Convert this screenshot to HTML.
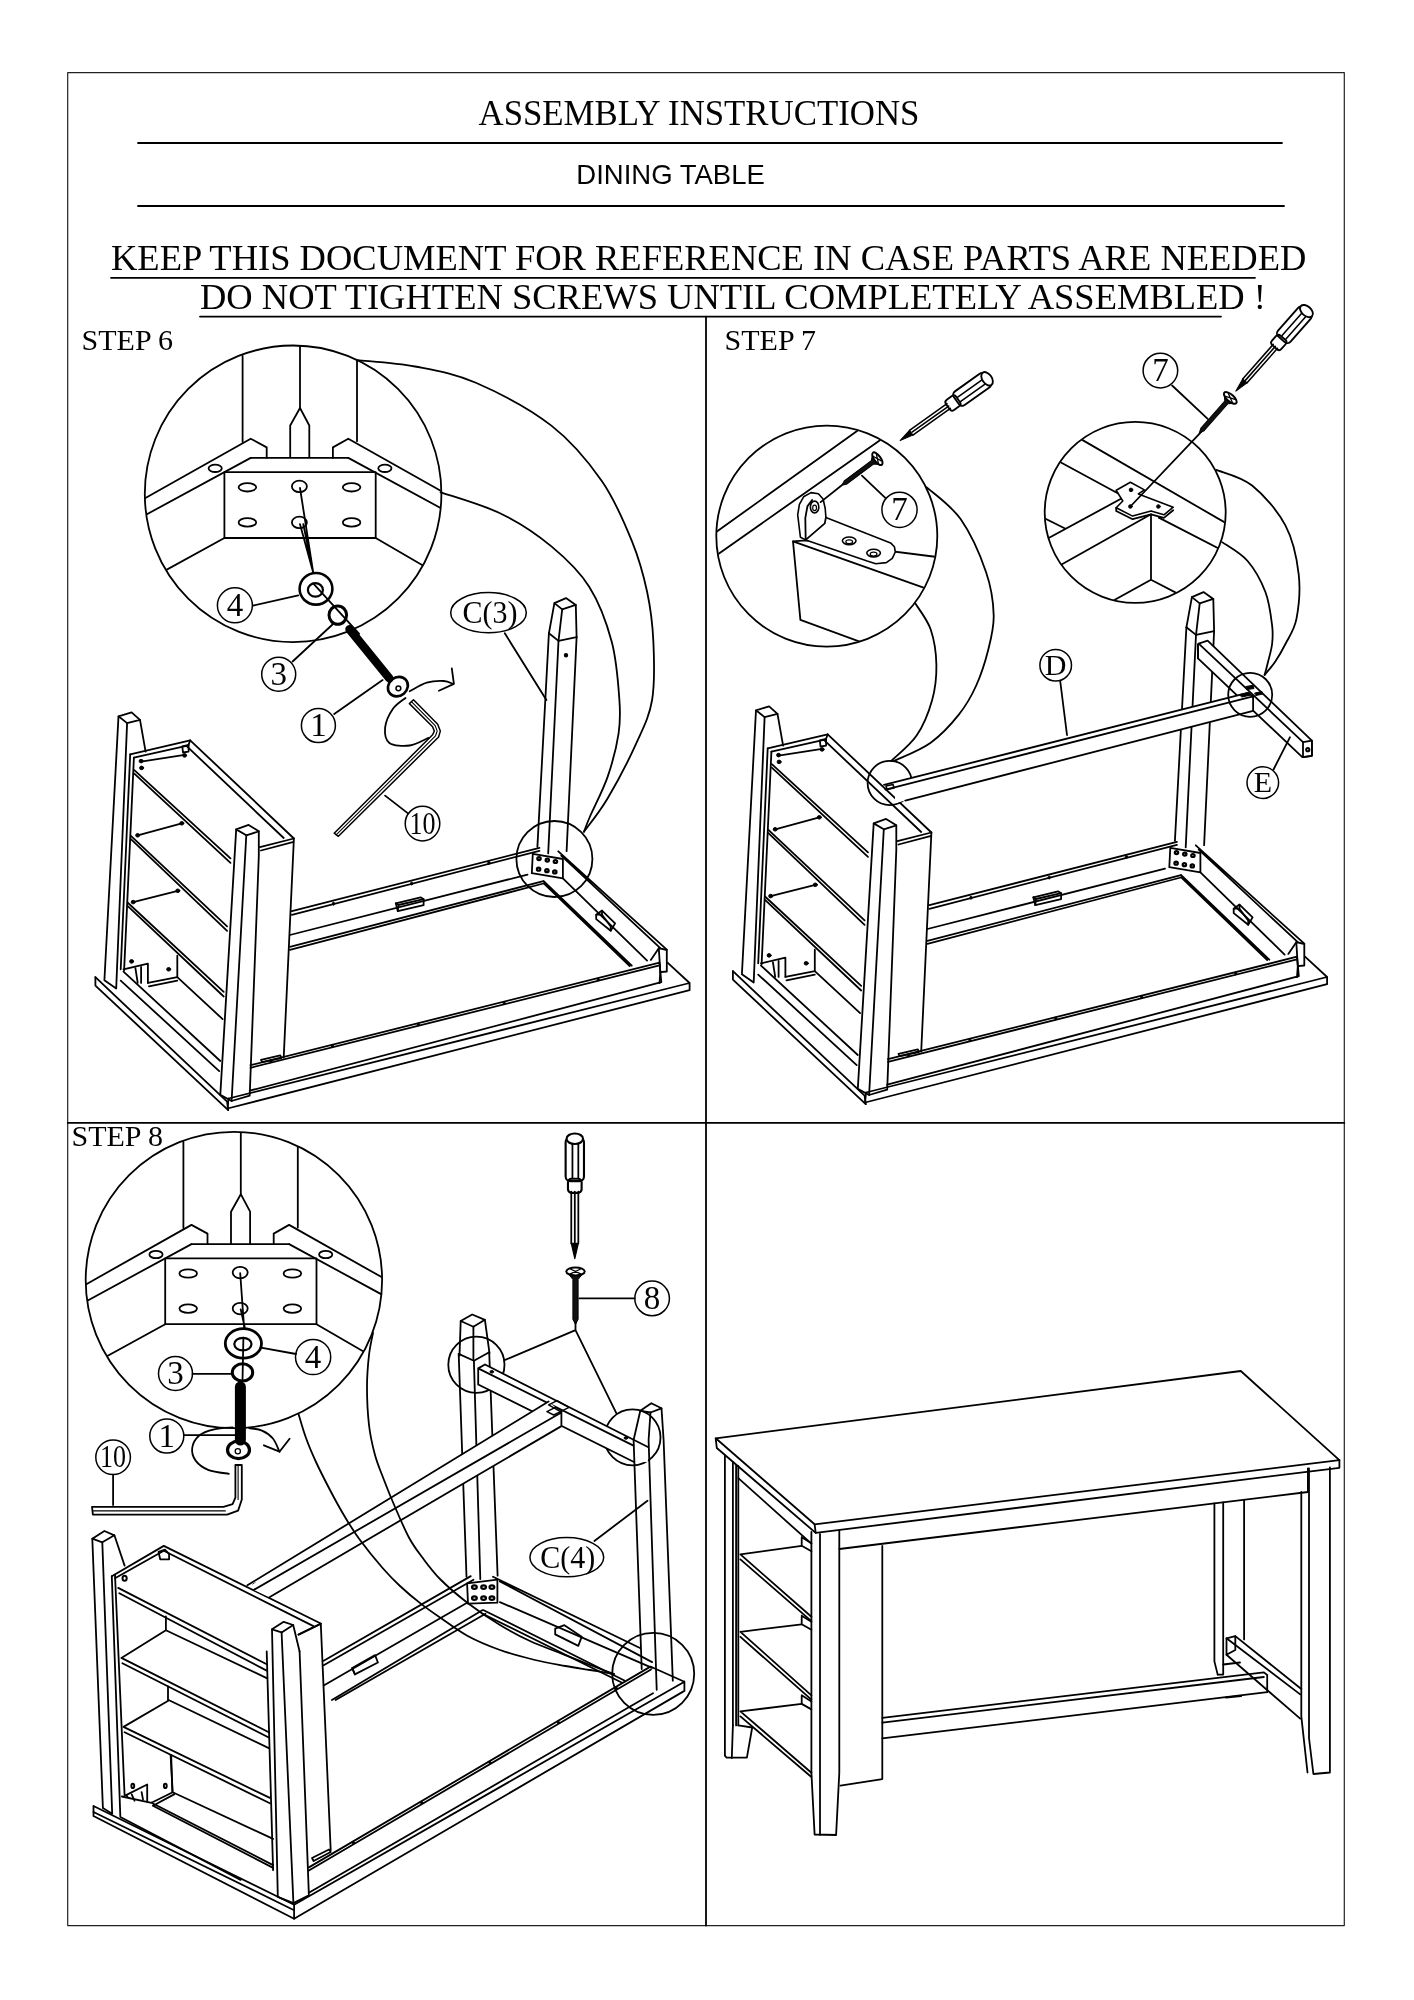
<!DOCTYPE html>
<html><head><meta charset="utf-8">
<style>
html,body{margin:0;padding:0;background:#fff;}
body{width:1414px;height:2000px;overflow:hidden;position:relative;}
svg{position:absolute;left:0;top:0;filter:grayscale(1);}
.s{font-family:"Liberation Serif",serif;fill:#000;stroke:none;opacity:0.99;}
.a{font-family:"Liberation Sans",sans-serif;fill:#000;stroke:none;opacity:0.99;}
</style></head><body>
<svg width="1414" height="2000" viewBox="0 0 1414 2000" fill="none" stroke="#000" stroke-width="1.8" stroke-linejoin="round" stroke-linecap="round">
<rect x="67.7" y="72.6" width="1276.6" height="1853" stroke-width="1.2" stroke="#222"/>
<path d="M138,143L1282,143M138,206L1284,206M111,277.8L1255,277.8M200,316.6L1221,316.6" stroke-width="1.8"/>
<path d="M706,316.6L706,1925.5M67.7,1122.9L1344.3,1122.9" stroke-width="1.8"/>
<text class="s" x="478.5" y="125" font-size="34.8">ASSEMBLY INSTRUCTIONS</text>
<text class="a" x="576.3" y="183.5" font-size="27.5">DINING TABLE</text>
<text class="s" x="111" y="269.8" font-size="36.5">KEEP THIS DOCUMENT FOR REFERENCE IN CASE PARTS ARE NEEDED</text>
<text class="s" x="200" y="309.2" font-size="36.5">DO NOT TIGHTEN SCREWS UNTIL COMPLETELY ASSEMBLED !</text>
<text class="s" x="81.6" y="350" font-size="30">STEP 6</text>
<text class="s" x="724.6" y="350" font-size="30">STEP 7</text>
<text class="s" x="71.5" y="1145.6" font-size="30">STEP 8</text>
<g id="s6">
<clipPath id="c6"><circle cx="293.1" cy="493.8" r="148"/></clipPath>
<g id="det6" clip-path="url(#c6)">
<path d="M242.6,355.8L242.6,441.9M300,344.4L300,408M357,360.2L357,441.3"/>
<path d="M290.2,457.3 L290.2,425.5 L300,408 L309.3,425.5 L309.3,457.3"/>
<path d="M140,501.1 L250.7,438.7 L266.7,447.4 L266.7,457.9"/>
<path d="M140,518 L250.7,457.9"/>
<path d="M450,496.1 L348.3,438.7 L332.9,447.4 L332.9,457.9"/>
<path d="M450,513.2 L348.3,457.9"/>
<path d="M250.7,457.9 L348.3,457.9"/>
<path d="M224.4,472.2 L375.7,472.2 L375.7,538 L224.4,538Z"/>
<path d="M224.4,538L140,584.4M375.7,538L450,581.2"/>
<ellipse cx="215.2" cy="468.3" rx="6.6" ry="3.7"/>
<ellipse cx="384.9" cy="468.3" rx="6.6" ry="3.7"/>
<ellipse cx="247.4" cy="487.3" rx="8.8" ry="4.2"/>
<ellipse cx="299.4" cy="486.4" rx="7.5" ry="5.7"/>
<ellipse cx="351.6" cy="487.3" rx="8.8" ry="4.2"/>
<ellipse cx="247.4" cy="522.4" rx="8.8" ry="4.2"/>
<ellipse cx="299.4" cy="522.4" rx="7.5" ry="5.7"/>
<ellipse cx="351.6" cy="522.4" rx="8.8" ry="4.2"/>
</g>
<path d="M300,488L313.2,572.4M300,524.2L313.2,572.4M303.3,524.2L313.2,572.4"/>
<circle cx="293.1" cy="493.8" r="148.3"/>
<ellipse cx="316" cy="588.8" rx="16.4" ry="15.8" stroke-width="2.6"/>
<ellipse cx="315.4" cy="589.9" rx="7.5" ry="6.8" stroke-width="2.2"/>
<ellipse cx="337.8" cy="615.1" rx="8.8" ry="9.2" stroke-width="3"/>
<path d="M313.2,583.4L359.2,633.8"/>
<circle cx="234.9" cy="605.3" r="17.5" stroke-width="1.5"/>
<text class="s" x="234.9" y="615.8" font-size="33" text-anchor="middle">4</text>
<path d="M252.9,605.7L298.3,595.4"/>
<path d="M349.5,629.2 L389.4,678.4" stroke-width="8.5"/>
<ellipse cx="397.9" cy="686.6" rx="10.5" ry="9.2" stroke-width="2.6" transform="rotate(-40 397.9 686.6)"/>
<ellipse cx="398.4" cy="688.3" rx="2.4" ry="2.4" stroke-width="1.5"/>
<circle cx="278.7" cy="674.2" r="17" stroke-width="1.5"/>
<text class="s" x="278.7" y="684.7" font-size="33" text-anchor="middle">3</text>
<path d="M292.6,661.5L332.5,624.5M334.2,714.1L382.6,680.1M385.1,795.6L408,813.4"/>
<circle cx="318.4" cy="725.6" r="17" stroke-width="1.5"/>
<text class="s" x="318.4" y="736.1" font-size="33" text-anchor="middle">1</text>
<circle cx="422.5" cy="823.6" r="17.3" stroke-width="1.5"/>
<text class="s" x="422.5" y="833.7" font-size="32" text-anchor="middle" textLength="26" lengthAdjust="spacingAndGlyphs">10</text>
<path d="M428.4,737.9 C425.3,739.1 416.2,744.6 409.7,745.5 C403.2,746.3 393.5,745.9 389.4,742.9 C385.3,740 384.6,733.3 385.1,727.7 C385.7,722 389.4,713.9 392.8,709 C396.2,704 403.4,699.8 405.5,698"/>
<path d="M409.7,691.2 C412.6,689.8 421,684.4 426.7,682.7 C432.4,681 439.3,680.8 443.7,681 C448.1,681.2 451.5,683.4 453,683.9"/>
<path d="M451.8,668.3 L453.9,683.9 L438.9,690.7"/>
<path d="M409.4,703.6 L413.5,699.8 L437.7,724.3 L440.3,731.1 L438.6,737 L338.4,836.3 L334.2,833.2 L432.6,734.8 L434.3,731.1 L432.6,726.8 L409.4,703.6" stroke-width="1.5"/>
<path d="M411.4,701.7 L435.2,725.6 L437.2,731.1 L435.5,735.8 L336.2,834.8" stroke-width="1.1"/>
<ellipse cx="488.5" cy="612.7" rx="37.8" ry="20.1" stroke-width="1.5"/>
<text class="s" x="489.9" y="622.8" font-size="32" text-anchor="middle" textLength="55" lengthAdjust="spacingAndGlyphs">C(3)</text>
<path d="M504.8,633.3L546.4,700"/>
<path d="M357.6,360.1 C367.2,361.2 395.3,362.7 415,366.5 C434.7,370.3 453.2,372.9 475.9,382.8 C498.6,392.7 530.4,409.2 551.4,425.6 C572.4,442 588.4,461.7 601.8,481 C615.2,500.3 624.5,522.9 632,541.4 C639.5,559.9 643.5,575 647.1,591.8 C650.7,608.6 652.6,624.1 653.4,642.1 C654.2,660.1 655,683 652.1,700 C649.2,717 643.3,727.7 635.9,744.1 C628.5,760.5 616.4,783.6 607.7,798.2 C599.1,812.8 588,826.1 584,831.7"/>
<path d="M440.6,492.3 C450.7,495.9 482.5,504.7 501,513.7 C519.5,522.7 536.7,534.2 551.4,546.4 C566.1,558.6 579.1,570.8 589.2,586.7 C599.3,602.7 606.8,623.2 611.8,642.1 C616.8,661 618.3,684.8 619.4,700 C620.5,715.2 620.5,720.5 618.6,733.3 C616.7,746.1 612.4,762.9 607.7,776.6 C603,790.3 594.4,806.3 590.4,815.5 C586.4,824.7 585.1,829 584,831.7"/>
<circle cx="554.4" cy="859" r="38"/>
</g>
<g id="tbl6">
<path d="M554.4,603.1 L566,598.1 L575.8,604.9 L562.2,609.4Z"/>
<path d="M554.4,603.1L548.9,633.3M562.2,609.4L558.5,640.9M575.8,604.9L576.6,637.1"/>
<path d="M548.9,633.3 L558.5,640.9 L576.6,637.1"/>
<ellipse cx="566" cy="655.2" rx="1.3" ry="1.3" fill="#000"/>
<path d="M548.9,633.3L537.4,846.9M558.5,640.8L548.2,853.4M576.6,637.1L566.6,851.2"/>
<path d="M118.5,716.3 L131.6,712.4 L140,719.9 L127.1,723.1Z"/>
<path d="M118.5,716.3 L104.4,980.2 L116.2,988.5 L127.1,723.1"/>
<path d="M140,719.9L145.6,751.6"/>
<path d="M130.2,754.3L120.7,969.3M133.9,757.7L124.1,970.4"/>
<path d="M130.2,754.3 L190.2,740.3 L293.9,838.5 L259.9,847.1"/>
<path d="M133.9,757.7 L186.4,745.9 L283.7,838"/>
<path d="M190.2,740.3 L188.2,745.9"/>
<path d="M182.3,746.4 L188.6,744.8 L188.6,751.6 L183,752.5Z"/>
<path d="M141.1,761.6L184.6,754.8M137.7,835.3L181.8,823.3M133.2,902.1L177.8,890.8"/>
<ellipse cx="141.1" cy="761.1" rx="2" ry="1.8" stroke-width="1" fill="#000"/>
<ellipse cx="141.6" cy="767.9" rx="2" ry="1.8" stroke-width="1" fill="#000"/>
<ellipse cx="184.6" cy="755.4" rx="2" ry="1.8" stroke-width="1" fill="#000"/>
<ellipse cx="137.7" cy="835.3" rx="2" ry="1.8" stroke-width="1" fill="#000"/>
<ellipse cx="181.8" cy="823.3" rx="2" ry="1.8" stroke-width="1" fill="#000"/>
<ellipse cx="133.2" cy="902.1" rx="2" ry="1.8" stroke-width="1" fill="#000"/>
<ellipse cx="177.8" cy="890.8" rx="2" ry="1.8" stroke-width="1" fill="#000"/>
<ellipse cx="131.6" cy="961.4" rx="2" ry="1.8" stroke-width="1" fill="#000"/>
<ellipse cx="168.7" cy="969.3" rx="2" ry="1.8" stroke-width="1" fill="#000"/>
<path d="M134.3,770.2L230.5,858.4M134.3,773.6L230.5,862.9M130.9,835.8L227.1,926.3M130.9,839.2L227.1,930.8M127.5,902.5L223.7,991.9M127.5,905.9L223.7,996.5"/>
<path d="M123.5,969.3 L147.9,963.6 L147.9,982.9"/>
<path d="M177.3,955.7 L177.3,977.2 L147.9,982.9"/>
<path d="M149,986.3L177.3,980.6M177.3,977.2L222.6,1019.1M135.4,968.2L137.7,982.9M141.1,967L141.1,982.9"/>
<path d="M123.5,971.6L220.3,1061M120.7,980.6L219.2,1071.1"/>
<path d="M293.9,838.5L283.7,1057.6M261,850.5L292.7,842.1"/>
<path d="M236.2,829.4 L248.6,824.9 L258.8,831.3 L246.3,835.3Z"/>
<path d="M236.2,829.4 L220.3,1094.9 L231.6,1101 L249.7,1095.6 L258.8,856.2 L258.8,831.3"/>
<path d="M246.3,835.3L231.6,1101"/>
<path d="M95.4,977.2 L95.4,985.6 L228.2,1110.1"/>
<path d="M95.4,977.2L227.1,1101.7M227.1,1101.7L228.2,1110.1"/>
<path d="M261,1059.8 L280.3,1055.3 L281.4,1058 L262.2,1062.1Z"/>
<path d="M291.9,911.2L539.4,847.8M291.9,914.8L539.4,850.8M289.9,935L527.5,874.6M289.9,946.8L543.4,881.1M289.9,949.8L543.4,883.5"/>
<path d="M395.8,903.3 L420.6,897.3 L423.6,899.2 L423.6,905.2 L397.8,911.2Z"/>
<path d="M395.8,903.3L398.5,905M398.5,905L423.6,899.2M398.5,905L397.8,911.2"/>
<ellipse cx="333.5" cy="903.7" rx="1.2" ry="1.6" stroke-width="0.8" fill="#000"/>
<ellipse cx="411.7" cy="883.5" rx="1.2" ry="1.6" stroke-width="0.8" fill="#000"/>
<ellipse cx="488.9" cy="862.9" rx="1.2" ry="1.6" stroke-width="0.8" fill="#000"/>
<path d="M532.8,853.8 L562.9,859 L562.9,878.3 L531.8,873.2Z"/>
<ellipse cx="539" cy="858.6" rx="1.7" ry="1.5" stroke-width="2.2"/>
<ellipse cx="547.3" cy="860.1" rx="1.7" ry="1.5" stroke-width="2.2"/>
<ellipse cx="555.4" cy="861.5" rx="1.7" ry="1.5" stroke-width="2.2"/>
<ellipse cx="538.6" cy="869.2" rx="1.7" ry="1.5" stroke-width="2.2"/>
<ellipse cx="546.9" cy="870.7" rx="1.7" ry="1.5" stroke-width="2.2"/>
<ellipse cx="554.8" cy="871.9" rx="1.7" ry="1.5" stroke-width="2.2"/>
<path d="M558.3,851.3L666.8,949.7M561.2,855.7L660.3,948.2M562.9,878.3L647.1,960.6M543.7,881.2L631.8,965.7M543.7,883.4L629.7,966.1"/>
<path d="M596.2,914.7 L602,910.6 L615.1,923.4 L610.7,930.7 L596.2,919.1Z"/>
<path d="M602,910.6L602,914.7M610.7,930.7L610.7,926.4M602,914.7L610.7,926.4M596.2,914.7L602,914.7"/>
<path d="M658.8,948.2 L666.8,950 L666.8,971.5 L660.3,972.2Z"/>
<path d="M658.8,948.2L650.8,959.9M660.3,972.2L659.5,983.2"/>
<path d="M250.5,1065.2L659.5,962.7M250.5,1067.8L659.5,965.4M659.5,962.7L661.3,982.2M249.7,1090.7L661.3,982.2M228.5,1098.5L689.6,983M227.6,1108.5L689.6,990.1M689.6,983L689.6,990.1M689.6,983L667.5,962.7M228.5,1098.5L227.6,1108.5"/>
<ellipse cx="270.9" cy="1061.4" rx="1" ry="1.5" stroke-width="0.8" fill="#000"/>
<ellipse cx="332.3" cy="1046" rx="1" ry="1.5" stroke-width="0.8" fill="#000"/>
<ellipse cx="418.2" cy="1024.5" rx="1" ry="1.5" stroke-width="0.8" fill="#000"/>
<ellipse cx="504.1" cy="1003" rx="1" ry="1.5" stroke-width="0.8" fill="#000"/>
<ellipse cx="598.1" cy="979.4" rx="1" ry="1.5" stroke-width="0.8" fill="#000"/>
</g>
<use href="#tbl6" transform="translate(637.5,-6)"/>
<clipPath id="c7a"><circle cx="826.8" cy="536.1" r="110"/></clipPath>
<g clip-path="url(#c7a)">
<path d="M706,539.3L863,426.8M706,562.6L888.5,434.3"/>
<path d="M939.4,557.3 L805.7,540.3 L793,541.4 L800.4,619.9 L875.7,647.5"/>
<path d="M793,541.4L934.1,591.3"/>
<path d="M800.4,537.2 L797.7,514.9 L799.4,504.3 L803.6,496.8 L811,492.6 L818.4,493.7 L823.1,499 L825.2,508.5 L825.9,517.4 L890.6,542.9 L894.4,546.7 L895.3,552 L892.3,558.4 L886.3,562.6 L875.7,563.7 L867.2,561.1 L805.7,539.9Z" stroke-width="1.6" fill="#fff"/>
<path d="M805.7,539.9 L805.3,518.1 L807.4,506.4 L812.1,500"/>
<path d="M805.7,539.9 L824.8,523.4 L825.9,517.4"/>
<ellipse cx="814.6" cy="507" rx="4.2" ry="5.9" stroke-width="1.6"/>
<ellipse cx="814.6" cy="507.9" rx="1.9" ry="2.8" stroke-width="1.2"/>
<ellipse cx="849.2" cy="540.8" rx="6.8" ry="3.8" stroke-width="1.6"/>
<ellipse cx="849.2" cy="541.8" rx="3.4" ry="1.9" stroke-width="1.2"/>
<ellipse cx="873.6" cy="553.1" rx="6.8" ry="3.8" stroke-width="1.6"/>
<ellipse cx="873.6" cy="554.1" rx="3.4" ry="1.9" stroke-width="1.2"/>
</g>
<circle cx="826.8" cy="536.1" r="110.5"/>
<g transform="translate(877.4,458.7) rotate(143.3)"><path d="M0,-7.5 L6,-2.1 L39.4,-2.1 L44.4,0 L39.4,2.1 L6,2.1 L0,7.5Z" fill="#111" stroke-width="1"/><ellipse cx="0" cy="0" rx="3.2" ry="7.5" fill="#fff" stroke-width="2"/><path d="M-1.9,-4.1 L1.9,4.1 M-1.9,4.1 L1.9,-4.1" stroke-width="1.3"/></g>
<path d="M841.8,485.2L820.6,502.1"/>
<circle cx="899.5" cy="509.8" r="17.6" stroke-width="1.5"/>
<text class="s" x="899.5" y="520.3" font-size="33" text-anchor="middle">7</text>
<path d="M861.9,475.6L885.3,497.9"/>
<g transform="translate(900.1,440.6) rotate(-35.4) scale(1.046)"><path d="M0,0 L13,-2.8 L13,2.8 Z" fill="#000" stroke-width="1"/><path d="M13,-2.8 L57,-2.8 M13,2.8 L57,2.8 M14,0 L57,0" stroke-width="1.5"/><rect x="56" y="-6.0" width="12" height="12.0" rx="3" stroke-width="1.8"/><rect x="66" y="-8.0" width="37" height="16.0" rx="4" stroke-width="1.8"/><path d="M69,-2 L100,-2 M69,3 L100,3" stroke-width="1.5"/><ellipse cx="102" cy="0" rx="4.5" ry="7.2" fill="#fff" stroke-width="1.8"/></g>
<path d="M926.7,487.3 C932.4,492.6 950.7,505 960.6,519.1 C970.5,533.2 980.6,556.2 986.1,572.2 C991.6,588.2 993.4,602.3 993.7,615.4 C994,628.5 991,638.9 988,650.7 C985,662.5 980.8,675.4 976,686 C971.2,696.6 966.5,704.9 959,714.4 C951.5,723.9 941.5,734.9 930.7,742.7 C919.9,750.5 900.1,758 894,761"/>
<path d="M915.2,603.3 C917.8,607.7 927.2,619.2 930.7,629.5 C934.2,639.8 936.2,653.1 936.4,664.9 C936.6,676.7 935.4,688.4 932.1,700.2 C928.8,712 923.4,725.5 916.6,735.6 C909.8,745.7 895.4,756.8 891.1,761"/>
<circle cx="889.8" cy="783" r="22.2"/>
<path d="M886,786 L893,784.5 L894,788 L887,789.5Z" stroke-width="1.6"/>
<circle cx="1055.7" cy="665.2" r="15.8" stroke-width="1.5"/>
<text class="s" x="1055.7" y="674.7" font-size="30" text-anchor="middle">D</text>
<path d="M1060.2,681L1067,735"/>
<clipPath id="c7b"><circle cx="1135.2" cy="512.4" r="90"/></clipPath>
<g clip-path="url(#c7b)">
<path d="M1082.2,439.9L1229.9,525.4M1052.2,457.7L1117.7,493.2M1158.8,517.6L1229.9,554.3M1038.9,543.2L1121,498.8M1052.2,569.8L1151,514.3M1038.9,515.4L1065.5,528.7M1151,514.3L1151,579.8M1151,579.8L1096.6,609.8M1151,579.8L1185.4,597.6"/>
<path d="M1116.2,490.3 L1130.4,482.3 L1144.4,489.9 L1138.4,493.9 L1173.2,507.2 L1163.9,514.8 L1151,511 L1132.6,516.1 L1116.2,507.7 L1122.8,501Z" stroke-width="1.6"/>
<path d="M1116.2,507.7 L1116.2,511 L1132.6,519.2 L1151,514.3 L1163.9,517.9 L1173.2,510.3"/>
<ellipse cx="1131" cy="489.9" rx="1.8" ry="1.8" stroke-width="1" fill="#000"/>
<ellipse cx="1130.4" cy="506.5" rx="1.8" ry="1.8" stroke-width="1" fill="#000"/>
<ellipse cx="1158.4" cy="506.5" rx="1.8" ry="1.8" stroke-width="1" fill="#000"/>
</g>
<circle cx="1135.2" cy="512.4" r="90.5"/>
<path d="M1130.4,506.5L1201,432.1"/>
<g transform="translate(1230.3,397.9) rotate(131.4)"><path d="M0,-8 L6,-2.1 L42,-2.1 L47,0 L42,2.1 L6,2.1 L0,8Z" fill="#111" stroke-width="1"/><ellipse cx="0" cy="0" rx="3.4" ry="8" fill="#fff" stroke-width="2"/><path d="M-2.0,-4.4 L2.0,4.4 M-2.0,4.4 L2.0,-4.4" stroke-width="1.3"/></g>
<circle cx="1160.4" cy="370.6" r="17.3" stroke-width="1.5"/>
<text class="s" x="1160.4" y="381.1" font-size="33" text-anchor="middle">7</text>
<path d="M1172.1,385.5L1207.7,418.8"/>
<g transform="translate(1235.9,391.1) rotate(-48.6) scale(1.046)"><path d="M0,0 L13,-2.8 L13,2.8 Z" fill="#000" stroke-width="1"/><path d="M13,-2.8 L57,-2.8 M13,2.8 L57,2.8 M14,0 L57,0" stroke-width="1.5"/><rect x="56" y="-6.0" width="12" height="12.0" rx="3" stroke-width="1.8"/><rect x="66" y="-8.0" width="37" height="16.0" rx="4" stroke-width="1.8"/><path d="M69,-2 L100,-2 M69,3 L100,3" stroke-width="1.5"/><ellipse cx="102" cy="0" rx="4.5" ry="7.2" fill="#fff" stroke-width="1.8"/></g>
<path d="M1216.5,469.9 C1222.4,472.5 1240.6,476.2 1252.1,485.5 C1263.6,494.8 1277.6,510.6 1285.4,525.4 C1293.2,540.2 1296.9,558.8 1298.7,574.3 C1300.5,589.8 1298.7,607.1 1296.5,618.7 C1294.3,630.3 1289,636.8 1285.4,644 C1281.8,651.2 1278.5,656.9 1275,662 C1271.5,667.1 1266.3,672.8 1264.6,674.9"/>
<path d="M1222.1,542.1 C1226.3,545.2 1240.4,552.7 1247.6,561 C1254.8,569.3 1261.3,581.3 1265.4,592 C1269.5,602.7 1271,616.7 1272.1,625.4 C1273.2,634.1 1272.8,637.9 1272.1,644 C1271.4,650.1 1269.2,656.9 1268,662 C1266.8,667.1 1265.2,672.8 1264.6,674.9"/>
<path d="M1198,644.4 L1198.7,643.6 L1207.6,640.6 L1311.9,740.7 L1311.9,755.8 L1303,757.2 L1302.3,757.2 L1198,658.4Z" stroke-width="1.8" fill="#fff"/>
<path d="M1198.7,643.6L1303,742.1M1198,644.4L1198,658.4"/>
<path d="M1303,742.1 L1311.9,740.7 L1311.9,755.8 L1303,757.2Z"/>
<ellipse cx="1307.8" cy="749.7" rx="1.6" ry="1.6" stroke-width="2"/>
<path d="M895,782.1 L1247.6,692.9 L1253.1,696.3 L1253.1,710.9 L905.3,800.6 L895,803.3Z" fill="#fff" stroke="none"/>
<path d="M884,784.9L1247.6,692.9M885.5,789.6L1253.1,696.3M905.3,800.6L1253.1,710.9M1253.1,696.3L1253.1,710.9M1247.6,692.9L1253.1,696.3"/>
<path d="M1246,686.5 L1253,685.3 L1254,688.5 L1247,689.6Z" stroke-width="1" fill="#000"/>
<path d="M1240,694.5 L1249,692.5 L1251,695 L1242,697Z" stroke-width="1" fill="#000"/>
<path d="M1255,693 L1262,691.5 L1263,694 L1256,695.5Z" stroke-width="1" fill="#000"/>
<circle cx="1250.2" cy="694.8" r="22"/>
<circle cx="1262.8" cy="782.6" r="15.8" stroke-width="1.5"/>
<text class="s" x="1262.8" y="792.1" font-size="30" text-anchor="middle">E</text>
<path d="M1273.5,769.5L1289.9,737.3"/>
<use href="#det6" transform="translate(-59.2,786.2)"/>
<circle cx="233.9" cy="1280" r="148.2"/>
<path d="M240.2,1273.2L244.1,1327.5M240.7,1309.4L244.8,1327.5M243.4,1337.7L242.5,1380.7"/>
<ellipse cx="243.4" cy="1343.4" rx="18.1" ry="14.7" stroke-width="2.8"/>
<ellipse cx="242.9" cy="1344.1" rx="8.6" ry="6.3" stroke-width="2.2"/>
<ellipse cx="242.5" cy="1372.4" rx="10.2" ry="8.6" stroke-width="3"/>
<circle cx="313.1" cy="1357" r="17.6" stroke-width="1.5"/>
<text class="s" x="313.1" y="1367.5" font-size="33" text-anchor="middle">4</text>
<path d="M262.2,1347.9L296.1,1354"/>
<circle cx="175.5" cy="1373.5" r="17" stroke-width="1.5"/>
<text class="s" x="175.5" y="1384" font-size="33" text-anchor="middle">3</text>
<path d="M192.5,1373.9L232.1,1373.9"/>
<path d="M240.4,1387 L240.4,1440" stroke-width="11"/>
<ellipse cx="238.5" cy="1449.9" rx="11" ry="8.8" stroke-width="3.2"/>
<ellipse cx="237.8" cy="1451.3" rx="2.6" ry="2.6" stroke-width="1.3"/>
<circle cx="166.8" cy="1436.1" r="17" stroke-width="1.5"/>
<text class="s" x="166.8" y="1446.6" font-size="33" text-anchor="middle">1</text>
<path d="M183.9,1435.2L235.4,1435.2"/>
<circle cx="113.1" cy="1457.2" r="17.3" stroke-width="1.5"/>
<text class="s" x="113.1" y="1467.4" font-size="32" text-anchor="middle" textLength="26" lengthAdjust="spacingAndGlyphs">10</text>
<path d="M113.1,1474.7L113.1,1505"/>
<path d="M92,1506.9 L223.4,1506.9 L232.6,1504.1 L235.4,1497.7 L235.4,1465 L241.8,1465 L241.8,1499.5 L238.1,1510.6 L227.1,1514.6 L92.9,1514.6 L92,1506.9"/>
<path d="M92.9,1510.9L225.3,1510.9M238.1,1465.5L238.1,1499.5" stroke-width="1.1"/>
<path d="M228.9,1473.8 C225.6,1473.2 214.2,1472.2 208.7,1470.1 C203.2,1468 198.6,1464.6 195.8,1460.9 C193.1,1457.2 191.6,1452.3 192.2,1448 C192.8,1443.7 195.8,1438.3 199.5,1435.2 C203.2,1432 208.7,1430.6 214.2,1429.3 C219.7,1428 229.6,1427.7 232.6,1427.4"/>
<path d="M249.2,1428.2 C251.3,1428.6 258.1,1428.8 262,1430.6 C266,1432.3 270.2,1435.3 273.1,1438.8 C276,1442.4 278.4,1449.6 279.5,1451.7"/>
<path d="M263.9,1445.3 L279.5,1451.7 L289.6,1438.8"/>
<g transform="translate(574.8,1258.7) rotate(-90.0) scale(1.176)"><path d="M0,0 L13,-3.0 L13,3.0 Z" fill="#000" stroke-width="1"/><path d="M13,-3.0 L57,-3.0 M13,3.0 L57,3.0 M14,0 L57,0" stroke-width="1.5"/><rect x="56" y="-5.8" width="12" height="11.6" rx="3" stroke-width="1.8"/><rect x="66" y="-7.8" width="37" height="15.6" rx="4" stroke-width="1.8"/><path d="M69,-2 L100,-2 M69,3 L100,3" stroke-width="1.5"/><ellipse cx="102" cy="0" rx="4.5" ry="7.0" fill="#fff" stroke-width="1.8"/></g>
<g transform="translate(575.5,1271.4) rotate(90.0)"><path d="M0,-9.2 L8,-2.6 L48,-2.6 L53,0 L48,2.6 L8,2.6 L0,9.2Z" fill="#111" stroke-width="1"/><ellipse cx="0" cy="0" rx="4" ry="9.2" fill="#fff" stroke-width="2"/><path d="M-2.4,-5.1 L2.4,5.1 M-2.4,5.1 L2.4,-5.1" stroke-width="1.3"/></g>
<circle cx="652.1" cy="1298.4" r="17.3" stroke-width="1.5"/>
<text class="s" x="652.1" y="1308.9" font-size="33" text-anchor="middle">8</text>
<path d="M579.4,1298.4L634.8,1298.4M575.5,1330.2L504.5,1360.2M575.5,1330.2L616.3,1413.2M575.5,1323L575.5,1330.2"/>
<circle cx="476.4" cy="1364.8" r="28.1"/><circle cx="632.5" cy="1437.4" r="28"/><circle cx="653.2" cy="1673.8" r="41"/>
<ellipse cx="566.8" cy="1557.2" rx="36.9" ry="19.6" stroke-width="1.5"/>
<text class="s" x="567.8" y="1567.6" font-size="32" text-anchor="middle" textLength="55" lengthAdjust="spacingAndGlyphs">C(4)</text>
<path d="M594.4,1541L647.5,1500.7"/>
<path d="M92.3,1538.7 L104.4,1531 L114.4,1535.3 L102.3,1542.3Z"/>
<path d="M92.3,1538.7 L102.9,1808.1 L112.2,1813.8 L102.3,1542.3"/>
<path d="M114.4,1535.3L124.6,1565.6M111.8,1576.2L120.3,1816M115,1574.7L124.6,1795.8"/>
<path d="M111.8,1576.2 L163.8,1545.9 L320.8,1623.5 L298.5,1634.6"/>
<path d="M115,1578.3 L163.8,1550.8 L313.4,1626.1"/>
<path d="M158.5,1551.8 L164.9,1549.7 L169.1,1553.9 L169.1,1559.3 L160.2,1559.3Z"/>
<ellipse cx="124.6" cy="1578.3" rx="2.1" ry="2.5" stroke-width="2"/>
<path d="M118.2,1587.9L266.7,1664.3M119.3,1593.2L266.7,1670.6M165.9,1616.5L165.9,1630.3M168,1686.5L168,1700.3M171.2,1755.5L172.3,1791.6"/>
<path d="M121.4,1657.9L165.9,1630.3M121.4,1657.9L268.8,1732.2M122.4,1663.2L268.8,1737.5M165.9,1630.3L266.7,1678.1"/>
<path d="M123.5,1726.9L169.1,1700.3M123.5,1726.9L269.9,1797.9M124.6,1732.2L269.9,1803.2M169.1,1700.3L268.8,1748.1"/>
<path d="M170.6,1755.5L172.7,1792.2M172.7,1792.2L273.1,1838.9M172.7,1792.2L151.5,1802.8M174.1,1794.4L152.9,1805.7M151.5,1802.8L273.1,1865.1M152.9,1805.7L273.1,1867.9M121.8,1796.5L151.5,1802.8M120.4,1817L240.6,1879.9"/>
<path d="M126,1795.1 L147.2,1784.5 L147.2,1801.4"/>
<path d="M131.7,1794.4L134.5,1800.7M141.6,1792.2L143,1799.3M126,1795.1L127.4,1796.5"/>
<ellipse cx="132.8" cy="1785.9" rx="1.4" ry="2.1" stroke-width="2"/>
<ellipse cx="165.3" cy="1785.9" rx="1.4" ry="2.1" stroke-width="2"/>
<path d="M272,1629.3 L283.7,1621.8 L293.2,1625 L281.6,1632.4Z"/>
<path d="M293.2,1625L299.6,1651.5"/>
<path d="M272,1629.3 L277.8,1896.9 L293.4,1903.1 L308.9,1895.4 L299.6,1651.5"/>
<path d="M281.6,1632.5L293.4,1903.1"/>
<path d="M298.5,1634.6L320.8,1624M266.7,1651.5L273.1,1870.1"/>
<path d="M320.8,1624L330.7,1850.2"/>
<path d="M312,1858 L329,1849.5 L330.7,1852 L313.6,1861Z"/>
<path d="M93.5,1806L294.1,1904.7M93.5,1816L294.1,1918.7M93.5,1806L93.5,1816M294.1,1904.7L294.1,1918.7"/>
<path d="M93.5,1812L294.1,1910.2"/>
<path d="M308.9,1867.4L650.4,1666.6M308.9,1870.5L651,1669.5M309.7,1892.3L653,1693.2M294.1,1904.7L684.4,1681.7M294.1,1918.7L684.4,1690.9M684.4,1681.7L684.4,1690.9M684.4,1681.7L650.9,1666.7"/>
<ellipse cx="353.3" cy="1842.8" rx="1.2" ry="1.2" stroke-width="0.8" fill="#000"/>
<ellipse cx="421.6" cy="1802.6" rx="1.2" ry="1.2" stroke-width="0.8" fill="#000"/>
<ellipse cx="489.9" cy="1762.5" rx="1.2" ry="1.2" stroke-width="0.8" fill="#000"/>
<ellipse cx="558.2" cy="1722.3" rx="1.2" ry="1.2" stroke-width="0.8" fill="#000"/>
<ellipse cx="616.2" cy="1688.2" rx="1.2" ry="1.2" stroke-width="0.8" fill="#000"/>
<path d="M470.8,1576.1L323.7,1660.7M473.5,1579.7L323.7,1665.2M467.1,1602.7L323.7,1685.5M482.7,1610.1L331.9,1700M485.5,1613.8L335.6,1700"/>
<path d="M352.2,1668 L375.1,1655.1 L377.9,1662.5 L354.9,1674.4Z"/>
<path d="M352.2,1668L354.9,1674.4"/>
<ellipse cx="255.6" cy="1586.2" rx="2.6" ry="2.6" stroke-width="2"/>
<path d="M467.1,1583.4 L497.4,1579.7 L497.4,1602.7 L468,1603.6Z"/>
<ellipse cx="474.4" cy="1587.1" rx="2.4" ry="1.8" stroke-width="2.2"/>
<ellipse cx="483.6" cy="1587.1" rx="2.4" ry="1.8" stroke-width="2.2"/>
<ellipse cx="491.9" cy="1587.1" rx="2.4" ry="1.8" stroke-width="2.2"/>
<ellipse cx="474.4" cy="1598.1" rx="2.4" ry="1.8" stroke-width="2.2"/>
<ellipse cx="483.6" cy="1598.1" rx="2.4" ry="1.8" stroke-width="2.2"/>
<ellipse cx="491.9" cy="1598.1" rx="2.4" ry="1.8" stroke-width="2.2"/>
<path d="M460.7,1321 L472.2,1314.5 L484.9,1319.8 L473.4,1326.7Z"/>
<path d="M460.7,1321L459.5,1355.6M473.4,1326.7L473.4,1359M484.9,1319.8L489.5,1353.2"/>
<path d="M458.7,1353.9 L473.9,1360.7 L489.2,1352.2"/>
<path d="M458.7,1353.9L466.5,1576.8M473.9,1360.7L480.3,1579.1M489.2,1352.2L497.6,1575.6"/>
<path d="M478.2,1368.4 L485,1364.5 L647.9,1447 L647.9,1462 L633.5,1461.7 L478.2,1384.5Z" fill="#fff" stroke="none"/>
<path d="M485,1364.5L647.9,1447M478.2,1368.4L633.5,1445.6M478.2,1384.5L633.5,1461.7M478.2,1368.4L485,1364.5M478.2,1368.4L478.2,1384.5"/>
<ellipse cx="491.8" cy="1371.8" rx="1.8" ry="1.3" stroke-width="1" fill="#000"/>
<ellipse cx="625.9" cy="1438" rx="1.8" ry="1.3" stroke-width="1" fill="#000"/>
<path d="M250,1586 L548.6,1401.5 L561.4,1412.5 L561.4,1426.1 L269.4,1597.2 L253.8,1589.9Z" fill="#fff" stroke="none"/>
<path d="M247.4,1585.3L548.6,1401.5M253.8,1589.9L561.4,1412.5M269.4,1597.2L561.4,1426.1M561.4,1412.5L561.4,1426.1"/>
<path d="M548.6,1404.9 L557.1,1400.6 L569,1407.4 L560.5,1411.7Z" stroke-width="1.5"/>
<path d="M546.9,1411.7 L555.4,1407.4 L562.2,1410.8 L553.7,1415Z" stroke-width="1.5"/>
<path d="M640.3,1410.8 L651.3,1403.2 L661.5,1408.3 L650.5,1412.5 L640.3,1410.8"/>
<path d="M640.3,1410.8L633.6,1440M633.6,1440L641.7,1669M650.5,1412.5L648.6,1440M648.6,1440L656.7,1689.8M661.5,1408.3L663.6,1440M663.6,1440L672.8,1680.6"/>
<path d="M493,1576.8L640.5,1648.2M499.9,1581.4L652.1,1662.1M499.9,1602.1L652.1,1667.8M483.7,1610.2L624.4,1680.5M482.6,1613.7L622.1,1682.8"/>
<path d="M555.2,1628.6 L564.4,1625.2 L581.7,1636.7 L578.3,1645.9 L555.2,1634.4Z"/>
<path d="M298.6,1414.3 C299.8,1418.2 303.1,1430 306,1438 C308.9,1446 312,1453.3 316,1462 C320,1470.7 325.2,1480.8 330,1490 C334.8,1499.2 340,1508.7 345,1517 C350,1525.3 353.7,1531.5 360,1540 C366.3,1548.5 375.9,1560.3 382.6,1568 C389.3,1575.7 393.6,1580 400,1586 C406.4,1592 414.4,1598.7 421.1,1603.9 C427.8,1609.2 432.2,1612.2 440,1617.5 C447.8,1622.8 457.7,1630.6 467.7,1636 C477.7,1641.4 488.8,1646 500,1650 C511.2,1654 524.1,1657.3 535,1660 C545.9,1662.7 556.1,1664.3 565.3,1666 C574.5,1667.7 581.9,1668.7 590,1670 C598.1,1671.3 610,1673.3 614,1674"/>
<path d="M373,1333 C372.3,1336.7 370,1346 369,1355 C368,1364 367,1375.3 367,1387 C367,1398.7 367.7,1413.7 369,1425 C370.3,1436.3 372.5,1445.8 375,1455 C377.5,1464.2 380.7,1471.3 384,1480 C387.3,1488.7 390.8,1497.3 395,1507 C399.2,1516.7 404.7,1529.7 409.2,1538 C413.7,1546.3 416.9,1550.2 422,1557 C427.1,1563.8 432.4,1571.3 440,1579 C447.6,1586.7 457.7,1595.3 467.7,1603 C477.7,1610.7 489.6,1618.7 500,1625 C510.4,1631.3 519.1,1636 530,1641 C540.9,1646 555.3,1651.1 565.3,1655.1 C575.3,1659.1 581.9,1661.8 590,1665 C598.1,1668.2 610,1672.5 614,1674"/>
<path d="M715.7,1438.3 L1240.8,1371 L1339.4,1460.1 L814.6,1524.3Z"/>
<path d="M715.7,1438.3 L716.8,1448 L815.7,1532.9 L1339.4,1467.8 L1339.4,1460.1"/>
<path d="M814.6,1524.3L815.7,1532.9"/>
<path d="M738.3,1478.1L811.4,1543.7"/>
<path d="M724.9,1455.5L724.9,1755.5M732.9,1462L732.9,1725.4M736.1,1465L736.1,1725.4M738.3,1466L738.3,1725.4"/>
<path d="M724.9,1755.5 L726.4,1757.5 L746.9,1757.6 L752.2,1727.5 L738.3,1725.4"/>
<path d="M732.9,1725.4L731.8,1758"/>
<path d="M740.4,1554.4L801.7,1545.8M740.4,1554.4L811.4,1616.8M740.4,1559.4L811.4,1621.1"/>
<path d="M801.7,1545.8L801.7,1537.2M801.7,1537.2L811.4,1543.3M801.7,1545.8L811.4,1551.3"/>
<path d="M740.4,1631.8L801.7,1624.3M740.4,1631.8L811.4,1695.3M740.4,1636.8L811.4,1699.6"/>
<path d="M801.7,1624.3L801.7,1615.7M801.7,1615.7L811.4,1621.8M801.7,1624.3L811.4,1629.8"/>
<path d="M740.4,1711.4L801.7,1703.9M740.4,1711.4L811.4,1772.7M740.4,1716.4L811.4,1777"/>
<path d="M801.7,1703.9L801.7,1695.3M801.7,1695.3L811.4,1701.4M801.7,1703.9L811.4,1709.4"/>
<path d="M811.4,1532 L811.4,1772.7 L814.6,1834.5 L836.1,1835 L839.3,1772.7 L839.3,1531"/>
<path d="M820,1534L820,1834.8"/>
<path d="M839.3,1549L1307.9,1492M1307.9,1468.5L1307.9,1492"/>
<path d="M882.3,1545.8 L882.3,1779.1 L840.4,1785.6"/>
<path d="M882.3,1717.8L1263.9,1672.4M882.3,1722.6L1263.9,1677M882.3,1738.3L1267.2,1692.2M1263.9,1672.4L1267.2,1675M1267.2,1675L1267.2,1692.2"/>
<path d="M1226,1697.5 L1241,1696" stroke-width="2.2"/>
<path d="M1301.3,1492 L1301.3,1716.4 L1307.5,1772.5"/>
<path d="M1309,1468.5 L1309,1738 L1313.4,1774 L1329.9,1772.5 L1329.9,1467.5"/>
<path d="M1214.4,1503.4 L1214.4,1661.4 L1217.7,1674.6"/>
<path d="M1223.2,1502.4L1223.2,1674.6M1244.1,1500.5L1244.1,1639.4M1217.7,1674.6L1223.2,1674.6"/>
<path d="M1223.2,1664.5L1240,1662.5"/>
<path d="M1226.5,1638.3 L1235.3,1636.1 L1235.3,1650 L1226.5,1654.8Z"/>
<path d="M1235.3,1636.1L1301.3,1689M1226.5,1638.3L1300.2,1694.4M1226.5,1654.8L1300.2,1718.6"/>
</svg>
</body></html>
